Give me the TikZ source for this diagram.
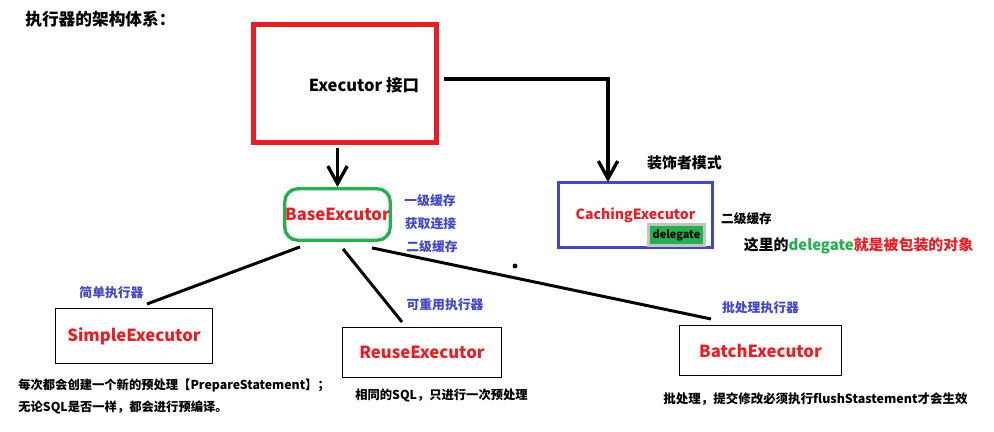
\documentclass[tikz,border=0pt]{standalone}
\usepackage{fontspec}
\setmainfont{Noto Sans CJK SC}
\usetikzlibrary{arrows.meta}
\definecolor{exred}{HTML}{ED1C24}
\definecolor{exgreen}{HTML}{22B14C}
\definecolor{exblue}{HTML}{3F48CC}
\definecolor{exgray}{HTML}{C3C3C3}

\begin{document}
\begin{tikzpicture}[x=0.02cm,y=-0.02cm,
    box/.style={draw,line width=0.6pt,inner sep=0pt},
    redtxt/.style={text=exred,font=\bfseries\fontsize{9.5}{11}\selectfont},
    bluetxt/.style={text=exblue,inner sep=0pt,font=\bfseries\fontsize{7.3}{9}\selectfont},
    blacktxt/.style={inner sep=0pt,font=\bfseries\fontsize{7}{9}\selectfont},
    link/.style={line width=1.7pt},
    arr/.style={line width=1.9pt,-{Straight Barb[length=10pt,width=11pt]}}]
    \useasboundingbox (0,0) rectangle (994,432);
    \node[inner sep=0pt,anchor=west,font=\bfseries\fontsize{9.5}{11}\selectfont] (title) at (25,19) {执行器的架构体系：};
    \node[draw=exred,line width=2.7pt,minimum width=3.66cm,minimum height=2.36cm] (exec) at (345,83.5) {};
    \node[inner sep=0pt,font=\bfseries\fontsize{9.4}{11}\selectfont] (exectxt) at (364,85) {Executor 接口};
    \node[draw=exgreen,line width=1.9pt,rounded corners=0.26cm,minimum width=2.11cm,minimum height=1.03cm,inner sep=0pt,redtxt] (base) at (337.5,214.5) {BaseExcutor};
    \node[bluetxt] (cache1) at (430,201) {一级缓存};
    \node[bluetxt] (conn) at (430.5,224) {获取连接};
    \node[bluetxt] (cache2) at (432,247) {二级缓存};
    \node[draw=exblue,line width=1.9pt,minimum width=3.07cm,minimum height=1.29cm,inner sep=0pt,redtxt,font=\bfseries\fontsize{8}{10}\selectfont] (cach) at (635.5,215) {CachingExecutor};
    \node[draw=exgray,fill=exgreen,line width=1.7pt,minimum width=1.12cm,minimum height=0.42cm,inner sep=0pt,font=\bfseries\fontsize{6.2}{8}\selectfont] (deleg) at (676.5,235) {delegate};
    \node[blacktxt,font=\bfseries\fontsize{8.5}{10}\selectfont] (deco) at (684.5,163) {装饰者模式};
    \node[blacktxt,font=\bfseries\fontsize{7.2}{9}\selectfont] (cachlbl) at (746.5,219) {二级缓存};
    \node[blacktxt,font=\bfseries\fontsize{8.5}{10}\selectfont] (delegnote) at (858.5,246) {这里的\textcolor{exgreen}{delegate}\textcolor{exred}{就是被包装的对象}};
    \node[box,minimum width=3.14cm,minimum height=1.10cm,redtxt] (simple) at (134,336) {SimpleExecutor};
    \node[bluetxt] (simplelbl) at (111.5,293) {简单执行器};
    \node[blacktxt,anchor=west,align=left,font=\bfseries\fontsize{7}{13}\selectfont] (simplenote) at (18,396.5) {每次都会创建一个新的预处理【PrepareStatement】；\\无论SQL是否一样，都会进行预编译。};
    \node[box,minimum width=3.18cm,minimum height=1.0cm,redtxt] (reuse) at (422,352.5) {ReuseExecutor};
    \node[bluetxt] (reuselbl) at (445,305) {可重用执行器};
    \node[blacktxt] (reusenote) at (441.5,396) {相同的SQL，只进行一次预处理};
    \node[box,minimum width=3.24cm,minimum height=1.0cm,redtxt] (batch) at (760.5,350.5) {BatchExecutor};
    \node[bluetxt] (batchlbl) at (760.5,308) {批处理执行器};
    \node[blacktxt,font=\bfseries\fontsize{7.1}{9}\selectfont] (batchnote) at (815.5,399) {批处理，提交修改必须执行flushStastement才会生效};
    \draw[arr,shorten <=1.7pt] (base.north |- exec.south) -- (base.north);
    \coordinate (r1) at ([shift={(5,-4.5)}]exec.east);
    \draw[arr] (r1) -| ([shift={(-27.5,1)}]cach.north);
    \coordinate (s1) at ([shift={(-37.5,5)}]base.south);
    \coordinate (s2) at ([shift={(5.5,7)}]base.south);
    \coordinate (s3) at ([shift={(34.5,6)}]base.south);
    \coordinate (e1) at ([shift={(13,-4)}]simple.north);
    \coordinate (e2) at ([shift={(-20,-5)}]reuse.north);
    \coordinate (e3) at ([shift={(-49.5,-6)}]batch.north);
    \draw[link] (s1) -- (e1);
    \draw[link] (s2) -- (e2);
    \draw[link] (s3) -- (e3);
    \fill (515,266) circle[radius=1.4pt];
\end{tikzpicture}
\end{document}
